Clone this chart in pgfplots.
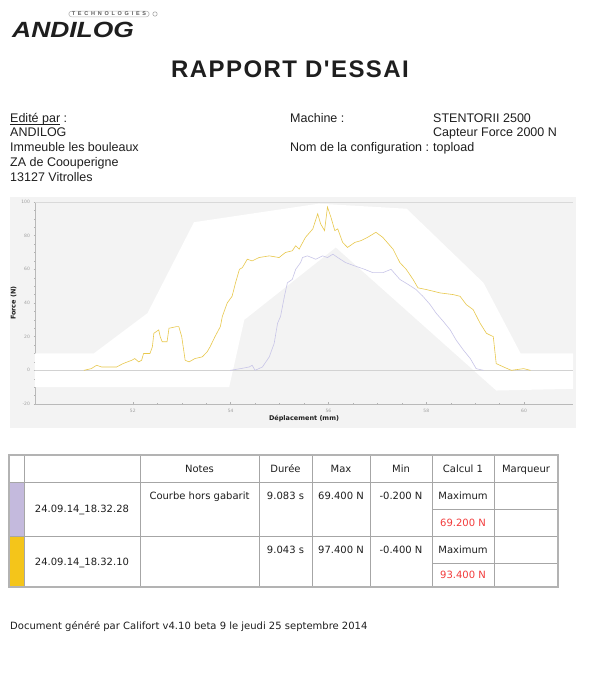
\documentclass[border=0pt]{standalone}
\usepackage{pgfplots}
\pgfplotsset{compat=1.18}
\usepackage{graphicx}
\usepackage{fontspec}
\setmainfont{Liberation Sans}
\newfontfamily\tfont{DejaVu Sans}
\definecolor{panel}{HTML}{F3F3F3}
\definecolor{lav}{HTML}{C4BADD}
\definecolor{gold}{HTML}{F4C51A}
\definecolor{ycurve}{HTML}{E8C84C}
\definecolor{pcurve}{HTML}{C8C5E8}
\definecolor{tline}{HTML}{A6A6A6}
\definecolor{tred}{HTML}{F23A3A}
\definecolor{ink}{HTML}{1E1E1E}

\pgfplotstableread{
x y
51.00 0
51.15 1
51.26 3
51.36 2
51.67 2
51.80 4
51.98 6
52.04 7
52.12 5
52.18 6
52.22 10
52.35 10
52.40 14
52.43 22
52.53 24
52.56 20
52.60 17
52.70 17
52.74 25
52.90 26
52.94 26
53.00 20
53.07 6
53.15 5
53.27 7
53.42 8
53.52 11
53.58 14
53.68 20
53.79 26
53.83 32
53.93 40
54.03 44
54.10 52
54.18 60
54.24 61
54.34 66
54.44 65
54.58 67
54.79 68
54.99 67
55.12 70
55.26 71
55.33 74
55.40 72
55.53 79
55.68 84
55.78 93
55.84 87
55.92 83
55.98 97
56.05 91
56.13 83
56.19 84
56.29 76
56.39 73
56.54 76
56.66 77
56.80 79
56.97 82
57.11 79
57.32 72
57.46 64
57.59 60
57.73 54
57.83 49
58.00 48
58.28 46
58.55 45
58.69 44
58.82 39
58.96 36
59.10 28
59.23 22
59.37 20
59.43 4
59.58 2
59.74 0
59.99 1
60.13 0
}\yellowdata

\pgfplotstableread{
x y
53.99 0
54.20 1
54.38 2
54.44 3
54.50 0
54.65 2
54.79 8
54.89 16
54.96 28
55.02 32
55.10 44
55.16 52
55.26 54
55.33 60
55.43 64
55.47 67
55.57 68
55.74 66
55.88 68
55.98 67
56.09 69
56.19 67
56.35 64
56.54 62
56.74 60
56.91 58
57.11 58
57.28 60
57.46 54
57.63 51
57.79 48
57.93 44
58.08 39
58.20 34
58.35 29
58.49 24
58.61 18
58.76 12
58.90 7
59.02 1
59.17 0
}\purpledata

\begin{document}
\begin{tikzpicture}
\path (0pt,0pt) rectangle (605pt,679pt);

% logo
\node[anchor=base west, inner sep=0, text=ink] at (12pt,641pt)
  {\scalebox{1.2}[1]{\fontsize{22}{22}\selectfont\bfseries\itshape ANDILOG}};
\node[draw=gray!60, line width=0.5pt, rounded corners=3pt, inner xsep=3pt, inner ysep=1pt,
  font=\fontsize{5.5}{6}\selectfont\bfseries, text=gray!70!black] at (109pt,665pt)
  {\addfontfeature{LetterSpace=50}TECHNOLOGIES};
\draw[gray!70, line width=0.6pt] (155pt,665pt) circle (2.2pt);

% title
\node[anchor=base, inner sep=0, text=ink, font=\fontsize{24}{24}\selectfont\bfseries] at (290pt,601pt)
  {\addfontfeature{LetterSpace=6,Ligatures=TeXOff}RAPPORT D'ESSAI};

% header block
\begin{scope}[every node/.style={anchor=base west, inner sep=0, text=ink, font=\fontsize{12.5}{14.5}\selectfont}]
\node at (10pt,556.5pt) {Edité par :};
\node at (10pt,542.5pt) {ANDILOG};
\node at (10pt,527.5pt) {Immeuble les bouleaux};
\node at (10pt,512.5pt) {ZA de Coouperigne};
\node at (10pt,497.5pt) {13127 Vitrolles};
\node at (290pt,556.5pt) {Machine :};
\node at (433pt,556.5pt) {STENTORII 2500};
\node at (433pt,542.5pt) {Capteur Force 2000 N};
\node at (290pt,527.5pt) {Nom de la configuration :};
\node at (433pt,527.5pt) {topload};
\end{scope}
\draw[ink, line width=0.6pt] (10pt,554.8pt) -- (60pt,554.8pt);

% chart panel
\fill[panel] (10pt,251pt) rectangle (576pt,482pt);

\begin{axis}[at={(35pt,275pt)}, anchor=south west, width=538pt, height=202pt, scale only axis,
  xmin=50, xmax=61, ymin=-20, ymax=100,
  axis lines*=left, axis line style={gray!55, line width=0.5pt},
  xtick={52,54,56,58,60}, ytick={-20,0,20,40,60,80,100},
  minor x tick num=3, minor y tick num=3,
  tick align=center, major tick length=3pt, minor tick length=1.6pt,
  tick style={gray!60, line width=0.4pt},
  tick label style={font=\tfont\fontsize{4.5}{5}\selectfont, text=gray!75},
  /pgf/number format/assume math mode=true,
  xlabel={Déplacement (mm)}, ylabel={Force (N)},
  label style={font=\tfont\bfseries\fontsize{6.5}{7}\selectfont, text=ink},
  xlabel style={yshift=4pt}, ylabel style={yshift=-2pt},
  clip=true]
\addplot[fill=white, draw=none] coordinates {
  (50,10) (51.2,10) (52.3,34) (53.25,88) (55.8,99) (57.6,96) (59.17,52) (59.93,10) (61,10)
  (61,-11) (59.43,-12) (56.15,73) (54.28,30) (53.97,-10) (50,-10) (50,10)};
\addplot[gray!35, line width=0.4pt] coordinates {(50,0) (61,0)};
\addplot[gray!30, line width=0.5pt] coordinates {(50,100) (61,100)};
\addplot[pcurve, line width=0.6pt] table[x=x,y=y] {\purpledata};
\addplot[ycurve, line width=0.6pt] table[x=x,y=y] {\yellowdata};
\end{axis}

% table
\fill[lav] (9pt,143pt) rectangle (24pt,197pt);
\fill[gold] (9pt,92pt) rectangle (24pt,143pt);
\begin{scope}[tline, line width=0.6pt]
\draw (9pt,197pt) -- (558pt,197pt);
\draw (9pt,143pt) -- (558pt,143pt);
\draw (432pt,170pt) -- (558pt,170pt);
\draw (432pt,116pt) -- (558pt,116pt);
\foreach \xx in {24,140,259,312,370,432,494} {\draw (\xx pt,92pt) -- (\xx pt,224pt);}
\end{scope}
\draw[tline!85, line width=1.8pt] (9pt,92pt) rectangle (558pt,224pt);

\begin{scope}[every node/.style={anchor=base, inner sep=0, text=ink, font=\tfont\fontsize{10}{12}\selectfont}]
\node at (199.5pt,206.8pt) {Notes};
\node at (285.5pt,206.8pt) {Durée};
\node at (341pt,206.8pt) {Max};
\node at (401pt,206.8pt) {Min};
\node at (463pt,206.8pt) {Calcul 1};
\node at (526pt,206.8pt) {Marqueur};
\node at (82pt,166.3pt) {24.09.14\_18.32.28};
\node at (199.5pt,179.8pt) {Courbe hors gabarit};
\node at (285.5pt,179.8pt) {9.083 s};
\node at (341pt,179.8pt) {69.400 N};
\node at (401pt,179.8pt) {-0.200 N};
\node at (463pt,179.8pt) {Maximum};
\node[text=tred] at (463pt,152.8pt) {69.200 N};
\node at (82pt,113.5pt) {24.09.14\_18.32.10};
\node at (285.5pt,125.8pt) {9.043 s};
\node at (341pt,125.8pt) {97.400 N};
\node at (401pt,125.8pt) {-0.400 N};
\node at (463pt,125.8pt) {Maximum};
\node[text=tred] at (463pt,100.3pt) {93.400 N};
\node[anchor=base west] at (10pt,49pt) {Document généré par Califort v4.10 beta 9 le jeudi 25 septembre 2014};
\end{scope}
\end{tikzpicture}
\end{document}
